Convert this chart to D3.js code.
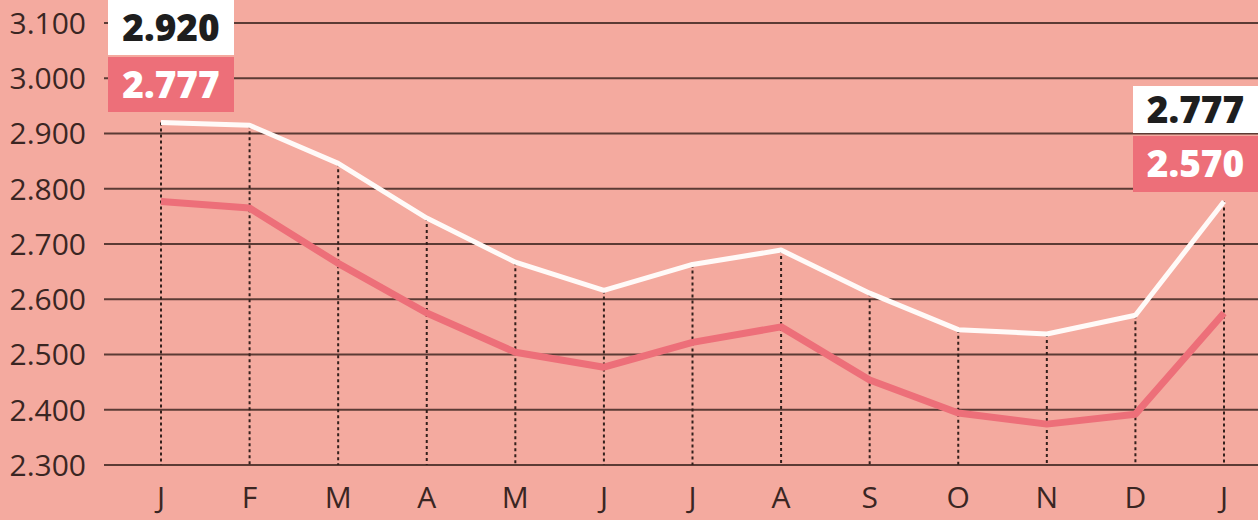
<!DOCTYPE html>
<html>
<head>
<meta charset="utf-8">
<script src="https://cdn.jsdelivr.net/npm/d3@7"></script>
<style>
  html, body { margin: 0; padding: 0; background: #f4aa9f; }
  svg { display: block; }
</style>
</head>
<body>
<svg id="chart" width="1258" height="520"></svg>
<script>
const months = ["J", "F", "M", "A", "M", "J", "J", "A", "S", "O", "N", "D", "J"];
const whiteSeries = [2.920, 2.915, 2.846, 2.747, 2.667, 2.616, 2.663, 2.689, 2.611, 2.545, 2.537, 2.571, 2.777];
const redSeries = [2.777, 2.765, 2.665, 2.575, 2.504, 2.477, 2.522, 2.550, 2.454, 2.394, 2.374, 2.392, 2.575];
const yTicks = [2.3, 2.4, 2.5, 2.6, 2.7, 2.8, 2.9, 3.0, 3.1];
const endLabels = { white: [2.920, 2.777], red: [2.777, 2.570] };

const W = 1258, H = 520;
const bg = "#f4aa9f";
const gridColor = "#5b3b35";
const textColor = "#3a2623";
const redColor = "#ed6f79";

const svg = d3.select("#chart");

const keys = months.map((m, i) => i);
const x = d3.scalePoint().domain(keys).range([161, 1224]);
const y = d3.scaleLinear().domain([2.3, 3.1]).range([465, 23]);

svg.append("rect").attr("width", W).attr("height", H).attr("fill", bg);

// horizontal grid
svg.append("g").selectAll("line")
  .data(yTicks)
  .enter()
  .append("line")
  .attr("x1", 104)
  .attr("x2", W)
  .attr("y1", d => y(d))
  .attr("y2", d => y(d))
  .attr("stroke", gridColor)
  .attr("stroke-width", 2);

// y labels
svg.append("g").selectAll("text")
  .data(yTicks)
  .enter()
  .append("text")
  .attr("x", 86)
  .attr("y", d => y(d))
  .attr("dy", "0.36em")
  .attr("text-anchor", "end")
  .attr("font-family", "'Open Sans', sans-serif")
  .attr("font-size", 30)
  .attr("fill", textColor)
  .text(d => d3.format(".3f")(d));

// x labels
svg.append("g").selectAll("text")
  .data(keys)
  .enter()
  .append("text")
  .attr("x", d => x(d))
  .attr("y", 508)
  .attr("text-anchor", "middle")
  .attr("font-family", "'Open Sans', sans-serif")
  .attr("font-size", 30)
  .attr("fill", textColor)
  .text(d => months[d]);

// dotted drop lines
svg.append("g").selectAll("line")
  .data(keys)
  .enter()
  .append("line")
  .attr("x1", d => x(d))
  .attr("x2", d => x(d))
  .attr("y1", d => y(whiteSeries[d]))
  .attr("y2", y(2.3))
  .attr("stroke", "#33201c")
  .attr("stroke-width", 2)
  .attr("stroke-dasharray", "3,3");

const line = d3.line().x((d, i) => x(i)).y(d => y(d));

svg.append("path")
  .datum(redSeries)
  .attr("d", line)
  .attr("fill", "none")
  .attr("stroke", redColor)
  .attr("stroke-width", 7)
  .attr("stroke-linejoin", "round");

svg.append("path")
  .datum(whiteSeries)
  .attr("d", line)
  .attr("fill", "none")
  .attr("stroke", "#fffaf8")
  .attr("stroke-width", 5)
  .attr("stroke-linejoin", "round");

// value boxes
function addBox(bx, by, bw, bh, fill, txtFill, value) {
  const g = svg.append("g").attr("transform", `translate(${bx}, ${by})`);
  g.append("rect")
    .attr("width", bw)
    .attr("height", bh)
    .attr("fill", fill);
  g.append("text")
    .attr("x", bw / 2)
    .attr("y", bh / 2)
    .attr("dy", "0.36em")
    .attr("text-anchor", "middle")
    .attr("font-family", "'Open Sans', sans-serif")
    .attr("font-weight", 800)
    .attr("font-size", 37)
    .attr("fill", txtFill)
    .text(d3.format(".3f")(value));
}

addBox(108, 0, 126, 55, "#ffffff", "#1e1e1e", endLabels.white[0]);
addBox(108, 57, 126, 55, redColor, "#ffffff", endLabels.red[0]);
addBox(1133, 86, 125, 47, "#ffffff", "#1e1e1e", endLabels.white[1]);
addBox(1133, 136, 125, 56, redColor, "#ffffff", endLabels.red[1]);
</script>
</body>
</html>
